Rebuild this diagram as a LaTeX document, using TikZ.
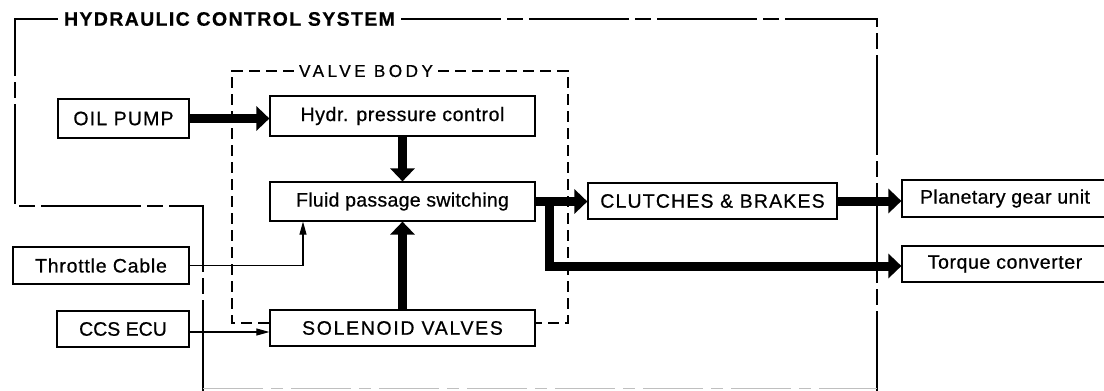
\documentclass[tikz,border=0pt]{standalone}
\usepackage{fontspec}
\setmainfont{Liberation Sans}[FakeBold=0.6]
\usetikzlibrary{arrows.meta}
\newcommand{\lsp}[1]{\addfontfeatures{LetterSpace=#1}}
\begin{document}
\begin{tikzpicture}[x=1pt,y=-1pt,
  blk/.style={draw, line width=1.2pt, inner sep=0pt, font=\fontsize{19.5}{22}\selectfont},
  thickarr/.style={line width=9pt, line join=miter, -{Triangle[length=13pt,width=24pt]}},
  thinarr/.style={line width=1.1pt, -{Triangle[length=13pt,width=7pt]}},
  hcsline/.style={line width=1.1pt, dash pattern=on 100pt off 6pt on 16pt off 6pt},
  vbline/.style={line width=1.1pt, dash pattern=on 11pt off 6pt},
  botline/.style={line width=1pt, gray!50, dash pattern=on 60pt off 8pt on 12pt off 8pt}]
\useasboundingbox (0,0) rectangle (1104,391);
\fill[white] (0,0) rectangle (1104,391);
\clip (0,0) rectangle (1104,391);

% boxes
\node[blk, minimum width=131pt, minimum height=39pt] (oil) at (123.5,118.5) {\lsp{6}OIL PUMP};
\node[blk, minimum width=265pt, minimum height=40pt] (hydr) at (402.5,116) {\lsp{3}Hydr. pressure control};
\node[blk, minimum width=265pt, minimum height=39pt] (fluid) at (402.5,201.5) {\lsp{1.5}Fluid passage switching};
\node[blk, minimum width=176pt, minimum height=37pt] (thr) at (101,265.5) {\lsp{4}Throttle Cable};
\node[blk, minimum width=132pt, minimum height=36pt] (ccs) at (123,329) {CCS ECU};
\node[blk, minimum width=265pt, minimum height=36pt] (sol) at (402.5,328) {\lsp{8.5}SOLENOID VALVES};
\node[blk, minimum width=249pt, minimum height=36pt] (clutch) at (712.5,201) {\lsp{6}CLUTCHES \& BRAKES};
\node[blk, minimum width=206pt, minimum height=37pt] (plan) at (1005,198.5) {\lsp{2}Planetary gear unit};
\node[blk, minimum width=206pt, minimum height=36pt] (torq) at (1005,264) {\lsp{3}Torque converter};

% hydraulic control system boundary
\node[font=\bfseries\fontsize{19.5}{22}\selectfont, inner sep=0pt, inner xsep=6pt] (hcs) at (229.5,19) {\lsp{7}HYDRAULIC CONTROL SYSTEM};
\draw[hcsline] (hcs.west) -- (15,19) -- (15,206) -- (203,206) -- (203,395);
\draw[hcsline] (hcs.east) -- (877,19) -- (877,395);
\draw[botline] (203,388.5) -- (877,388.5);

% valve body boundary
\node[font=\fontsize{17.2}{20}\selectfont, inner sep=0pt, inner xsep=5pt] (vb) at (366,71) {\lsp{20}VALVE BODY};
\coordinate (vbl) at (232,323);
\coordinate (vbr) at (568,323);
\draw[vbline] (vb.west) -- (232,71) -- (vbl) -- (vbl -| sol.west);
\draw[vbline] (vb.east) -- (568,71) -- (vbr) -- (vbr -| sol.east);

% thick arrows
\draw[thickarr] (oil.east) -- (oil.east -| hydr.west);
\draw[thickarr] (hydr.south) -- (fluid.north);
\draw[thickarr] (sol.north) -- (fluid.south);
\draw[thickarr] (fluid.east) -- (fluid.east -| clutch.west);
\coordinate (br) at (549,197);
\coordinate (brc) at (549,266);
\draw[thickarr] (br) -- (brc) -- (brc -| torq.west);
\draw[thickarr] (clutch.east) -- (clutch.east -| plan.west);

% thin arrows
\coordinate (thc) at (303,265.5);
\draw[thinarr] (thr.east) -- (thc) -- (thc |- fluid.south);
\draw[thinarr] ([yshift=-3pt]ccs.east) -- ([yshift=-3pt]ccs.east -| sol.west);
\end{tikzpicture}
\end{document}
